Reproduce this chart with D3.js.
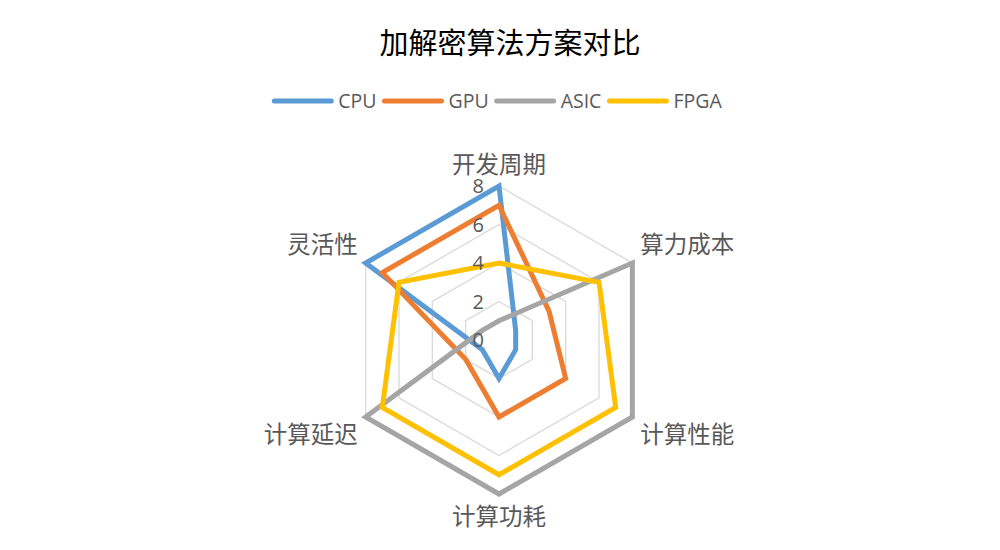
<!DOCTYPE html>
<html>
<head>
<meta charset="utf-8">
<script src="https://cdn.jsdelivr.net/npm/d3@7"></script>
<style>
  body { margin: 0; background: #fff; }
  text { font-family: "Noto Sans CJK SC", "Noto Sans", sans-serif; }
</style>
</head>
<body>
<div id="chart"></div>
<script>
const axes = ["开发周期", "算力成本", "计算性能", "计算功耗", "计算延迟", "灵活性"];
const seriesNames = ["CPU", "GPU", "ASIC", "FPGA"];
const cpu  = [8, 1, 1, 2, 1, 8];
const gpu  = [7, 3, 4, 4, 2, 7];
const asic = [1, 8, 8, 8, 8, 1];
const fpga = [4, 6, 7, 7, 7, 6];
const tickValues = [0, 2, 4, 6, 8];
const colors = ["#5B9BD5", "#ED7D31", "#A5A5A5", "#FFC000"];

const series = [cpu, gpu, asic, fpga];

let width = 1000;
let height = 550;
let cx = 499, cy = 340, radius = 154;

let svg = d3.select("#chart").append("svg")
  .attr("width", width)
  .attr("height", height);

svg.append("text")
  .attr("x", 510)
  .attr("y", 54)
  .attr("text-anchor", "middle")
  .style("font-size", "29px")
  .style("fill", "#000")
  .text("加解密算法方案对比");

let r = d3.scaleLinear().domain([0, 8]).range([0, radius]);
let angle = d3.scaleLinear().domain([0, axes.length]).range([0, 2 * Math.PI]);

let g = svg.append("g").attr("transform", `translate(${cx},${cy})`);

// grid hexagons
let gridLine = d3.lineRadial()
  .angle((d, i) => angle(i))
  .radius(d => r(d))
  .curve(d3.curveLinearClosed);

g.selectAll(".grid")
  .data(tickValues.filter(v => v > 0))
  .enter().append("path")
  .attr("class", "grid")
  .attr("d", v => gridLine(axes.map(() => v)))
  .style("fill", "none")
  .style("stroke", "#D9D9D9")
  .style("stroke-width", 1.3);

// series
let line = d3.lineRadial()
  .angle((d, i) => angle(i))
  .radius(d => r(d))
  .curve(d3.curveLinearClosed);

g.selectAll(".series")
  .data(series)
  .enter().append("path")
  .attr("class", "series")
  .attr("d", d => line(d))
  .style("fill", "none")
  .style("stroke", (d, i) => colors[i])
  .style("stroke-width", 5)
  .style("stroke-linejoin", "miter");

// tick labels
g.selectAll(".tick")
  .data(tickValues)
  .enter().append("text")
  .attr("class", "tick")
  .attr("x", -15)
  .attr("y", v => -r(v))
  .attr("dy", "0.36em")
  .attr("text-anchor", "end")
  .style("font-size", "20px")
  .style("font-family", "'Open Sans', sans-serif")
  .style("fill", "#595959")
  .text(v => v);

// axis labels
g.selectAll(".axis-label")
  .data(axes)
  .enter().append("text")
  .attr("class", "axis-label")
  .attr("x", (d, i) => {
    let a = angle(i), s = Math.sin(a);
    let x = s * radius;
    return Math.abs(s) < 0.01 ? x : x + (s > 0 ? 8 : -8);
  })
  .attr("y", (d, i) => {
    let a = angle(i), c = Math.cos(a);
    let y = -c * radius;
    if (Math.abs(Math.sin(a)) < 0.01) return c > 0 ? y - 21 : y + 23;
    return c > 0 ? y - 18 : y + 18;
  })
  .attr("dy", "0.35em")
  .attr("text-anchor", (d, i) => {
    let s = Math.sin(angle(i));
    return Math.abs(s) < 0.01 ? "middle" : (s > 0 ? "start" : "end");
  })
  .style("font-size", "23.5px")
  .style("fill", "#595959")
  .text(d => d);

// legend
let legend = svg.append("g");
let lx = 0;
seriesNames.forEach((name, i) => {
  let item = legend.append("g").attr("transform", `translate(${lx},0)`);
  item.append("line")
    .attr("x1", 0).attr("x2", 57)
    .attr("y1", 0).attr("y2", 0)
    .style("stroke", colors[i])
    .style("stroke-width", 5)
    .style("stroke-linecap", "round");
  let t = item.append("text")
    .attr("x", 64)
    .attr("y", 0)
    .attr("dy", "0.36em")
    .style("font-size", "19.5px")
    .style("font-family", "'Open Sans', sans-serif")
    .style("fill", "#595959")
    .text(name);
  lx += 64 + t.node().getComputedTextLength() + 8;
});
legend.attr("transform", `translate(${498 - (lx - 8) / 2},101)`);
</script>
</body>
</html>
